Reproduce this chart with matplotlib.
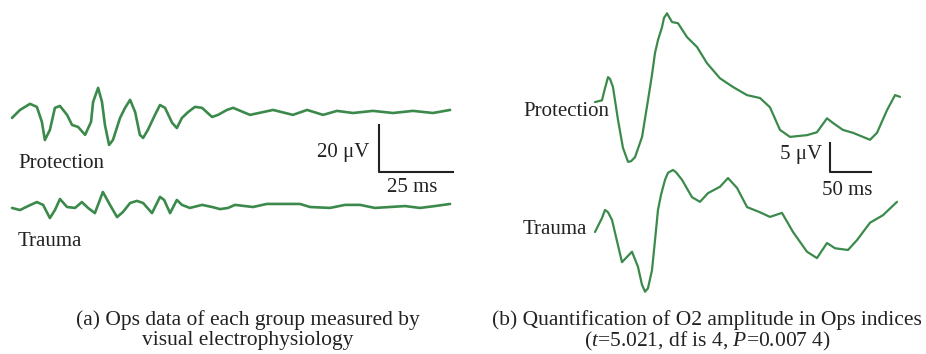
import numpy as np
import matplotlib.pyplot as plt

plt.rcParams["font.family"] = ["Liberation Serif", "DejaVu Serif"]
plt.rcParams["mathtext.fontset"] = "custom"
plt.rcParams["mathtext.rm"] = "Liberation Serif"
plt.rcParams["mathtext.it"] = "Liberation Serif:italic"

# (a) Ops traces, time [ms] and amplitude [uV]
a_prot_t = [0, 2.7, 6.1, 8.4, 10.1, 11.1, 12.8, 14.5, 16.2, 18.6, 20.3, 22.3, 24.7, 26.7, 27.4, 29.1,
            30.4, 31.4, 32.8, 34.1, 36.5, 38.2, 39.9, 41.6, 43.2, 44.3, 45.9, 48.3, 50.0, 51.7, 54.1,
            55.7, 57.4, 59.5, 61.8, 64.2, 67.6, 69.6, 72.6, 74.7, 80.4, 88.2, 94.9, 99.7, 105.1,
            109.8, 115.2, 122.0, 128.7, 135.5, 142.2, 148.0]
a_prot_v = [-3.4, 0, 2.6, 1.3, -5.1, -12.8, -8.5, 0.9, 1.7, -2.1, -6.4, -7.2, -10.6, -5.1, 3.4, 9.4,
            3.4, -6.4, -14.9, -12.8, -3.4, 0.9, 4.3, -0.9, -10.6, -11.9, -8.5, -2.1, 2.1, 0.9, -5.5,
            -7.7, -3.4, -0.9, 1.3, 0.9, -3.0, -2.1, 0, 0.9, -2.1, 0, -2.1, 0, -2.1,
            -0.4, -1.3, -0.4, -1.3, -0.4, -1.3, 0]
a_trau_t = [0, 2.7, 5.4, 8.4, 10.5, 12.8, 14.5, 16.2, 18.6, 21.3, 23.6, 25.7, 28.0, 30.7, 33.1, 35.5,
            37.5, 39.9, 42.2, 44.3, 47.3, 50.0, 51.4, 53.4, 55.7, 57.4, 60.1, 64.2, 67.6, 70.3, 73.0,
            75.3, 81.4, 86.1, 97.3, 100.7, 107.4, 112.5, 117.6, 122.6, 127.7, 132.8, 137.8, 142.9, 148.0]
a_trau_v = [-0.4, -1.3, 0.4, 2.1, 0.9, -4.7, -1.3, 3.4, 0, -0.4, 2.1, -0.4, -2.6, 6.4, 0.9, -4.3,
            -2.1, 1.7, 2.6, 1.7, -2.6, 4.3, 3.0, -2.6, 3.0, 0.9, -0.4, 0.9, 0, -0.9, -0.4,
            0.9, 0, 1.3, 1.3, 0, -0.4, 0.9, 0.9, -0.4, 0, 0.4, -0.4, 0.4, 1.3]
a_offset = 41.3

# (b) O2 traces, time [ms] and amplitude [uV]
b_prot_t = [0, 8.5, 12.2, 15.9, 18.3, 21.9, 28.1, 34.1, 40.3, 43.9, 48.8, 57.4, 64.6, 69.5, 73.1,
            76.8, 81.7, 84.1, 87.8, 93.9, 101.2, 112.2, 124.4, 136.6, 152.4, 168.3, 185.4, 201.2,
            213.4, 225.6, 237.8, 258.5, 270.7, 282.9, 290.2, 302.4, 314.6, 335.4, 343.9, 356.1,
            365.9, 372.0]
b_prot_v = [0, 0.3, 2.4, 4.3, 4.0, 2.6, -3.1, -7.9, -10.3, -10.2, -9.5, -6.0, 0.3, 4.7, 8.4,
            10.7, 12.9, 14.5, 15.3, 13.8, 13.6, 11.2, 9.5, 6.7, 4.1, 2.6, 1.2, 0.7,
            -0.9, -4.8, -6.0, -5.7, -5.2, -2.8, -3.6, -4.8, -5.3, -6.5, -5.3, -1.4,
            1.2, 0.9]
b_trau_t = [0, 8.5, 12.2, 15.9, 20.7, 32.9, 45.1, 52.4, 57.3, 61.0, 64.6, 69.5, 73.2, 76.8, 80.5,
            85.4, 89.0, 95.1, 98.8, 106.1, 118.3, 128.0, 137.8, 152.4, 162.2, 173.2, 185.4, 201.2,
            213.4, 228.0, 241.5, 258.5, 270.7, 282.9, 292.7, 308.5, 319.5, 335.4, 351.2, 368.3]
b_trau_v = [0, 2.4, 3.8, 3.4, 2.1, -5.2, -3.4, -6.0, -9.1, -10.3, -9.7, -6.6, -1.4, 3.8, 6.4,
            9.0, 10.2, 10.7, 10.3, 9.0, 6.0, 5.2, 6.7, 7.8, 9.3, 7.6, 4.3, 3.4,
            2.6, 3.3, 0, -3.4, -4.5, -1.9, -2.8, -3.1, -1.4, 1.6, 2.9, 5.2]
b_offset = 22.4

W = 926
H = 354
green = "#3b8a4c"

fig = plt.figure( figsize = ( W/100 , H/100 ) , dpi = 100 )

def px_axes( x0 , y0 , x1 , y1 ):
    # axes from pixel box (top-left origin)
    ax = fig.add_axes( [ x0/W , 1 - y1/H , ( x1 - x0 )/W , ( y1 - y0 )/H ] )
    ax.axis( "off" )
    return ax

def fig_text( x , y , s , **kw ):
    fig.text( x/W , 1 - y/H , s , **kw )

line_kw = dict( color = green , solid_joinstyle = "round" , solid_capstyle = "round" )

# Panel (a): 2.96 px per ms, 2.35 px per uV
ax1 = px_axes( 0 , 0 , 463 , 300 )
ax1.set_xlim( -12/2.96 , 451/2.96 )
ax1.set_ylim( -93/2.35 , 207/2.35 )
ax1.plot( a_prot_t , np.array( a_prot_v ) + a_offset , lw = 1.9 , **line_kw )
ax1.plot( a_trau_t , a_trau_v , lw = 1.9 , **line_kw )
ax1.plot( [ 124 , 124 , 149 ] , [ 34.9 , 14.9 , 14.9 ] , color = "#222222" , lw = 1.5 )

# Panel (b): 0.82 px per ms, 5.8 px per uV
ax2 = px_axes( 463 , 0 , 926 , 300 )
ax2.set_xlim( -132/0.82 , 331/0.82 )
ax2.set_ylim( -68/5.8 , 232/5.8 )
ax2.plot( b_prot_t , np.array( b_prot_v ) + b_offset , lw = 1.6 , **line_kw )
ax2.plot( b_trau_t , b_trau_v , lw = 1.6 , **line_kw )
ax2.plot( [ 286.6 , 286.6 , 336.6 ] , [ 15.34 , 10.34 , 10.34 ] , color = "#222222" , lw = 1.5 )

# Labels
fs = 15
tc = "#222222"
fig_text( 18 , 163 , "Protection" , fontsize = fs , color = tc , va = "center" )
fig_text( 18 , 242 , "Trauma" , fontsize = fs , color = tc , va = "center" )
fig_text( 523 , 111 , "Protection" , fontsize = fs , color = tc , va = "center" )
fig_text( 523 , 230 , "Trauma" , fontsize = fs , color = tc , va = "center" )
fig_text( 317 , 152 , "20 μV" , fontsize = fs , color = tc , va = "center" )
fig_text( 387 , 188 , "25 ms" , fontsize = fs , color = tc , va = "center" )
fig_text( 780 , 155 , "5 μV" , fontsize = fs , color = tc , va = "center" )
fig_text( 822 , 190 , "50 ms" , fontsize = fs , color = tc , va = "center" )

# Captions
cs = 15.5
fig_text( 248 , 320 , "(a) Ops data of each group measured by" , fontsize = cs , color = tc , ha = "center" , va = "center" )
fig_text( 248 , 341 , "visual electrophysiology" , fontsize = cs , color = tc , ha = "center" , va = "center" )
fig_text( 707 , 320 , "(b) Quantification of O2 amplitude in Ops indices" , fontsize = cs , color = tc , ha = "center" , va = "center" )
fig_text( 707 , 341 , "($\\mathit{t}$=5.021, df is 4, $\\mathit{P}$=0.007 4)" , fontsize = cs , color = tc , ha = "center" , va = "center" )

plt.savefig( "out.png" , dpi = 100 )
